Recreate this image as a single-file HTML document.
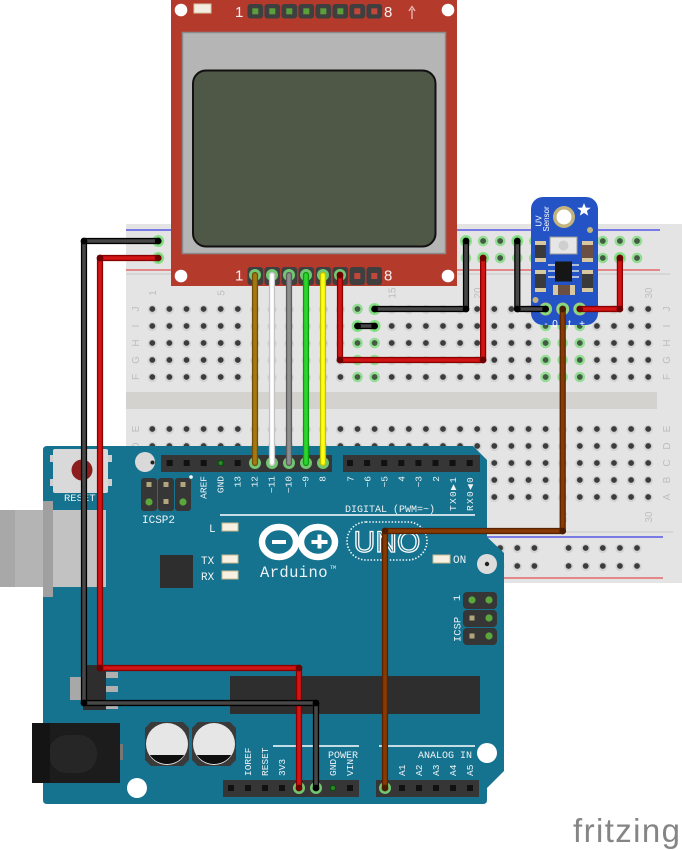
<!DOCTYPE html>
<html><head><meta charset="utf-8"><style>
html,body{margin:0;padding:0;background:#fff;}
svg{display:block;}
</style></head><body>
<svg width="682" height="850" viewBox="0 0 682 850" xmlns="http://www.w3.org/2000/svg">
<defs>
<pattern id="hg1" patternUnits="userSpaceOnUse" x="143.75" y="300.5" width="17.1" height="17"><circle cx="8.55" cy="9" r="4.6" fill="#d2d2d2"/><circle cx="8.55" cy="8.5" r="2.9" fill="#3c3c3c"/></pattern>
<pattern id="hg2" patternUnits="userSpaceOnUse" x="143.75" y="420.5" width="17.1" height="17"><circle cx="8.55" cy="9" r="4.6" fill="#d2d2d2"/><circle cx="8.55" cy="8.5" r="2.9" fill="#3c3c3c"/></pattern>
<pattern id="hr1" patternUnits="userSpaceOnUse" x="149.65" y="232.5" width="102.6" height="17"><g fill="#d2d2d2"><circle cx="8.55" cy="9" r="4.6"/><circle cx="25.65" cy="9" r="4.6"/><circle cx="42.75" cy="9" r="4.6"/><circle cx="59.85" cy="9" r="4.6"/><circle cx="76.95" cy="9" r="4.6"/></g><g fill="#3c3c3c"><circle cx="8.55" cy="8.5" r="2.9"/><circle cx="25.65" cy="8.5" r="2.9"/><circle cx="42.75" cy="8.5" r="2.9"/><circle cx="59.85" cy="8.5" r="2.9"/><circle cx="76.95" cy="8.5" r="2.9"/></g></pattern>
<pattern id="hr2" patternUnits="userSpaceOnUse" x="149.65" y="539" width="102.6" height="18"><g fill="#d2d2d2"><circle cx="8.55" cy="9.5" r="4.6"/><circle cx="25.65" cy="9.5" r="4.6"/><circle cx="42.75" cy="9.5" r="4.6"/><circle cx="59.85" cy="9.5" r="4.6"/><circle cx="76.95" cy="9.5" r="4.6"/></g><g fill="#3c3c3c"><circle cx="8.55" cy="9" r="2.9"/><circle cx="25.65" cy="9" r="2.9"/><circle cx="42.75" cy="9" r="2.9"/><circle cx="59.85" cy="9" r="2.9"/><circle cx="76.95" cy="9" r="2.9"/></g></pattern>
</defs>

<rect width="682" height="850" fill="#fff"/>

<!-- BREADBOARD -->
<rect x="126" y="224" width="556" height="359" fill="#e4e4e4"/>
<rect x="126" y="392" width="531" height="17" fill="#d4d2cf"/>
<line x1="126" y1="230" x2="660" y2="230" stroke="#5656e6" stroke-width="1.4"/>
<line x1="126" y1="270" x2="660" y2="270" stroke="#e26a6a" stroke-width="1.4"/>
<line x1="126" y1="274" x2="670" y2="274" stroke="#c9c9c9" stroke-width="1"/>
<line x1="126" y1="532" x2="673" y2="532" stroke="#c9c9c9" stroke-width="1"/>
<line x1="126" y1="537" x2="663" y2="537" stroke="#5656e6" stroke-width="1.4"/>
<line x1="126" y1="578" x2="663" y2="578" stroke="#e26a6a" stroke-width="1.4"/>
<rect x="143.75" y="300.5" width="513" height="85" fill="url(#hg1)"/>
<rect x="143.75" y="420.5" width="513" height="85" fill="url(#hg2)"/>
<rect x="149.65" y="232.5" width="513" height="34" fill="url(#hr1)"/>
<rect x="149.65" y="539" width="513" height="36" fill="url(#hr2)"/>

<g font-family="'Liberation Sans',sans-serif" font-size="10" fill="#bdbdbd" text-anchor="middle">
<text transform="translate(156,293) rotate(-90)">1</text>
<text transform="translate(224.4,293) rotate(-90)">5</text>
<text transform="translate(395.4,293) rotate(-90)">15</text>
<text transform="translate(480.9,293) rotate(-90)">20</text>
<text transform="translate(651.9,293) rotate(-90)">30</text>
<text transform="translate(566.4,517) rotate(-90)">25</text>
<text transform="translate(651.9,517) rotate(-90)">30</text>
<text transform="translate(139,309) rotate(-90)">J</text>
<text transform="translate(139,326) rotate(-90)">I</text>
<text transform="translate(139,343) rotate(-90)">H</text>
<text transform="translate(139,360) rotate(-90)">G</text>
<text transform="translate(139,377) rotate(-90)">F</text>
<text transform="translate(139,429) rotate(-90)">E</text>
<text transform="translate(139,446) rotate(-90)">D</text>
<text transform="translate(670,309) rotate(-90)">J</text>
<text transform="translate(670,326) rotate(-90)">I</text>
<text transform="translate(670,343) rotate(-90)">H</text>
<text transform="translate(670,360) rotate(-90)">G</text>
<text transform="translate(670,377) rotate(-90)">F</text>
<text transform="translate(670,429) rotate(-90)">E</text>
<text transform="translate(670,446) rotate(-90)">D</text>
<text transform="translate(670,463) rotate(-90)">C</text>
<text transform="translate(670,480) rotate(-90)">B</text>
<text transform="translate(670,497) rotate(-90)">A</text>
</g>

<!-- green highlighted holes -->
<g>
<g fill="#93dc93">
<circle cx="158.2" cy="241" r="5.3"/><circle cx="158.2" cy="258" r="5.3"/>
<circle cx="466" cy="241" r="5.3"/><circle cx="483.1" cy="241" r="5.3"/><circle cx="500.2" cy="241" r="5.3"/><circle cx="517.3" cy="241" r="5.3"/><circle cx="534.4" cy="241" r="5.3"/>
<circle cx="568.6" cy="241" r="5.3"/><circle cx="585.7" cy="241" r="5.3"/><circle cx="602.8" cy="241" r="5.3"/><circle cx="619.9" cy="241" r="5.3"/><circle cx="637" cy="241" r="5.3"/>
<circle cx="466" cy="258" r="5.3"/><circle cx="483.1" cy="258" r="5.3"/><circle cx="500.2" cy="258" r="5.3"/><circle cx="517.3" cy="258" r="5.3"/><circle cx="534.4" cy="258" r="5.3"/>
<circle cx="568.6" cy="258" r="5.3"/><circle cx="585.7" cy="258" r="5.3"/><circle cx="602.8" cy="258" r="5.3"/><circle cx="619.9" cy="258" r="5.3"/><circle cx="637" cy="258" r="5.3"/>
<circle cx="357.5" cy="309" r="5.3"/><circle cx="357.5" cy="326" r="5.3"/><circle cx="357.5" cy="343" r="5.3"/><circle cx="357.5" cy="360" r="5.3"/><circle cx="357.5" cy="377" r="5.3"/>
<circle cx="374.6" cy="309" r="5.3"/><circle cx="374.6" cy="326" r="5.3"/><circle cx="374.6" cy="343" r="5.3"/><circle cx="374.6" cy="360" r="5.3"/><circle cx="374.6" cy="377" r="5.3"/>
<circle cx="545.6" cy="326" r="5.3"/><circle cx="545.6" cy="343" r="5.3"/><circle cx="545.6" cy="360" r="5.3"/><circle cx="545.6" cy="377" r="5.3"/>
<circle cx="562.7" cy="326" r="5.3"/><circle cx="562.7" cy="343" r="5.3"/><circle cx="562.7" cy="360" r="5.3"/><circle cx="562.7" cy="377" r="5.3"/>
<circle cx="579.8" cy="326" r="5.3"/><circle cx="579.8" cy="343" r="5.3"/><circle cx="579.8" cy="360" r="5.3"/><circle cx="579.8" cy="377" r="5.3"/>
</g>
<g fill="#435a43">
<circle cx="483.1" cy="241" r="2.9"/><circle cx="500.2" cy="241" r="2.9"/><circle cx="534.4" cy="241" r="2.9"/><circle cx="568.6" cy="241" r="2.9"/><circle cx="585.7" cy="241" r="2.9"/><circle cx="602.8" cy="241" r="2.9"/><circle cx="619.9" cy="241" r="2.9"/><circle cx="637" cy="241" r="2.9"/>
<circle cx="466" cy="258" r="2.9"/><circle cx="500.2" cy="258" r="2.9"/><circle cx="517.3" cy="258" r="2.9"/><circle cx="534.4" cy="258" r="2.9"/><circle cx="568.6" cy="258" r="2.9"/><circle cx="585.7" cy="258" r="2.9"/><circle cx="602.8" cy="258" r="2.9"/><circle cx="637" cy="258" r="2.9"/>
<circle cx="357.5" cy="309" r="2.9"/><circle cx="357.5" cy="343" r="2.9"/><circle cx="357.5" cy="360" r="2.9"/><circle cx="357.5" cy="377" r="2.9"/>
<circle cx="374.6" cy="343" r="2.9"/><circle cx="374.6" cy="360" r="2.9"/><circle cx="374.6" cy="377" r="2.9"/>
<circle cx="545.6" cy="326" r="2.9"/><circle cx="545.6" cy="343" r="2.9"/><circle cx="545.6" cy="360" r="2.9"/><circle cx="545.6" cy="377" r="2.9"/>
<circle cx="562.7" cy="326" r="2.9"/><circle cx="562.7" cy="343" r="2.9"/><circle cx="562.7" cy="360" r="2.9"/><circle cx="562.7" cy="377" r="2.9"/>
<circle cx="579.8" cy="326" r="2.9"/><circle cx="579.8" cy="343" r="2.9"/><circle cx="579.8" cy="360" r="2.9"/><circle cx="579.8" cy="377" r="2.9"/>
</g>
</g>

<!-- ARDUINO -->
<path d="M47,446 L473,446 L487,460 L487,537 L504,553 L504,771 L487,788 L487,800 Q487,804 483,804 L47,804 Q43,804 43,800 L43,450 Q43,446 47,446 Z" fill="#157390"/>
<!-- USB -->
<rect x="0" y="510" width="106" height="77" fill="#c2c2c2"/>
<rect x="0" y="510" width="15" height="77" fill="#a8a8a8"/>
<rect x="15" y="510" width="30" height="77" fill="#b4b4b4"/>
<rect x="43" y="501" width="10" height="96" fill="#a0a0a0"/>
<!-- reset -->
<rect x="50" y="455" width="5" height="7" fill="#cfcfcf"/><rect x="50" y="479" width="5" height="7" fill="#cfcfcf"/>
<rect x="106" y="455" width="6" height="7" fill="#cfcfcf"/><rect x="106" y="479" width="6" height="7" fill="#cfcfcf"/>
<rect x="53" y="449" width="55" height="44" rx="2" fill="#d9d9d9"/>
<circle cx="82" cy="470" r="10.5" fill="#8c1e1e"/>
<g font-family="'Liberation Mono',monospace" fill="#eef3f5">
<text x="64" y="501" font-size="10.5">RESET</text>
<text x="142" y="523" font-size="11">ICSP2</text>
<text x="209" y="532" font-size="11">L</text>
<text x="201" y="564" font-size="11">TX</text>
<text x="201" y="580" font-size="11">RX</text>
<text x="453" y="563" font-size="11">ON</text>
<text x="345" y="512" font-size="10">DIGITAL (PWM=~)</text>
<text x="328" y="758" font-size="10">POWER</text>
<text x="418" y="758" font-size="10">ANALOG IN</text>
<text x="260" y="577" font-size="15.5" letter-spacing="0.4">Arduino</text>
<text x="330" y="569" font-size="5">TM</text>
</g>
<line x1="220" y1="515" x2="475" y2="515" stroke="#fff" stroke-width="1.5"/>
<line x1="273" y1="746" x2="359" y2="746" stroke="#fff" stroke-width="1.5"/>
<line x1="379" y1="746" x2="475" y2="746" stroke="#fff" stroke-width="1.5"/>
<!-- holes -->
<circle cx="145" cy="462" r="10" fill="#d9d9d9"/><circle cx="152.5" cy="462.5" r="2" fill="#222"/>
<circle cx="487" cy="564" r="10" fill="#dcdcdc"/><circle cx="487" cy="564" r="2.2" fill="#222"/>
<circle cx="137" cy="788" r="10" fill="#fff"/>
<circle cx="487" cy="753" r="10" fill="#fff"/>
<!-- digital headers -->
<rect x="161" y="455" width="171" height="17" fill="#363636"/>
<rect x="343" y="455" width="137" height="17" fill="#363636"/>
<g fill="#111">
<rect x="166.7" y="460" width="6" height="6"/><rect x="183.7" y="460" width="6" height="6"/><rect x="200.7" y="460" width="6" height="6"/><rect x="234.7" y="460" width="6" height="6"/>
<rect x="347" y="460" width="6" height="6"/><rect x="364.1" y="460" width="6" height="6"/><rect x="381.2" y="460" width="6" height="6"/><rect x="398.3" y="460" width="6" height="6"/><rect x="415.4" y="460" width="6" height="6"/><rect x="432.5" y="460" width="6" height="6"/><rect x="449.6" y="460" width="6" height="6"/><rect x="466.7" y="460" width="6" height="6"/>
</g>
<rect x="217.7" y="460" width="6" height="6" fill="#0f4a12"/><circle cx="220.7" cy="463" r="2" fill="#2a8a2a"/>
<g font-family="'Liberation Mono',monospace" font-size="9.5" fill="#eef3f5" text-anchor="end">
<text transform="translate(206.7,476) rotate(-90)">AREF</text>
<text transform="translate(223.7,476) rotate(-90)">GND</text>
<text transform="translate(240.7,476) rotate(-90)">13</text>
<text transform="translate(257.7,476) rotate(-90)">12</text>
<text transform="translate(274.7,476) rotate(-90)">~11</text>
<text transform="translate(291.7,476) rotate(-90)">~10</text>
<text transform="translate(308.7,476) rotate(-90)">~9</text>
<text transform="translate(325.7,476) rotate(-90)">8</text>
<text transform="translate(353.3,476) rotate(-90)">7</text>
<text transform="translate(370.4,476) rotate(-90)">~6</text>
<text transform="translate(387.5,476) rotate(-90)">~5</text>
<text transform="translate(404.6,476) rotate(-90)">4</text>
<text transform="translate(421.7,476) rotate(-90)">~3</text>
<text transform="translate(438.8,476) rotate(-90)">2</text>
<text transform="translate(455.9,476) rotate(-90)" letter-spacing="1.3">TX0▶1</text>
<text transform="translate(473,476) rotate(-90)" letter-spacing="1.3">RX0◀0</text>
</g>
<!-- ICSP2 -->
<rect x="141" y="478" width="16" height="33" rx="3" fill="#363636"/>
<rect x="158" y="478" width="16" height="33" rx="3" fill="#363636"/>
<rect x="175" y="478" width="16" height="33" rx="3" fill="#363636"/>
<g fill="#b3a57c"><rect x="146.5" y="482" width="5" height="5"/><rect x="163.5" y="482" width="5" height="5"/><rect x="180.5" y="482" width="5" height="5"/><rect x="163.5" y="499" width="5" height="5"/></g>
<circle cx="149" cy="502" r="3.6" fill="#5aa83c"/><circle cx="183" cy="502" r="3.6" fill="#5aa83c"/>
<circle cx="191" cy="477" r="1.8" fill="#fff"/>
<!-- LEDs -->
<g fill="#f6f1e2" stroke="#c9b98e" stroke-width="1">
<rect x="222" y="523" width="16" height="8"/><rect x="222" y="555" width="16" height="8"/><rect x="222" y="571" width="16" height="8"/><rect x="433" y="555" width="17" height="8"/>
</g>
<rect x="160" y="555" width="33" height="33" fill="#2e2e2e"/>
<!-- logo -->
<g fill="none" stroke="#fff" stroke-width="6.5">
<ellipse cx="279" cy="542" rx="17" ry="15"/><ellipse cx="318" cy="542" rx="17" ry="15"/>
</g>
<rect x="272" y="540" width="14" height="4" fill="#fff"/>
<rect x="311.5" y="540" width="16" height="4" fill="#fff"/><rect x="317.5" y="534.5" width="4" height="14" fill="#fff"/>
<rect x="347" y="522" width="80" height="38" rx="19" fill="none" stroke="#fff" stroke-width="1.6" stroke-dasharray="1.4 1.8"/>
<text x="387" y="552" text-anchor="middle" font-family="'Liberation Sans',sans-serif" font-size="30" fill="none" stroke="#fff" stroke-width="1.3">UNO</text>
<!-- ICSP right -->
<rect x="463" y="592" width="34" height="17" rx="4" fill="#363636"/>
<rect x="463" y="610" width="34" height="17" rx="4" fill="#363636"/>
<rect x="463" y="628" width="34" height="17" rx="4" fill="#363636"/>
<circle cx="472" cy="600" r="3.6" fill="#5aa83c"/><circle cx="489" cy="600" r="3.6" fill="#5aa83c"/>
<rect x="469.5" y="615.5" width="5" height="5" fill="#b3a57c"/><circle cx="489" cy="618" r="3.6" fill="#5aa83c"/>
<rect x="469.5" y="633.5" width="5" height="5" fill="#b3a57c"/><circle cx="489" cy="636" r="3.6" fill="#5aa83c"/>
<g font-family="'Liberation Mono',monospace" fill="#eef3f5">
<text transform="translate(460,598) rotate(-90)" font-size="10.5" text-anchor="middle">1</text>
<text transform="translate(460.5,642) rotate(-90)" font-size="10.5">ICSP</text>
</g>
<!-- chips -->
<rect x="230" y="676" width="250" height="38" fill="#2e2e2e"/>
<rect x="106" y="672" width="12" height="6" fill="#b0b0b0"/><rect x="106" y="686" width="12" height="6" fill="#b0b0b0"/><rect x="106" y="704" width="12" height="5" fill="#b0b0b0"/>
<rect x="70" y="677" width="15" height="23" fill="#a8a8a8"/>
<rect x="83" y="665" width="23" height="45" fill="#2e2e2e"/>
<!-- power jack -->
<rect x="118" y="744" width="5" height="16" fill="#777"/>
<rect x="32" y="723" width="88" height="60" fill="#1c1c1c"/>
<rect x="49" y="735" width="48" height="38" rx="18" fill="#262626"/>
<rect x="32" y="723" width="18" height="60" fill="#141414"/>
<!-- capacitors -->
<path d="M151,722 L183,722 L189,728 L189,760 L183,766 L151,766 L145,760 L145,728 Z" fill="#3a3a3a"/>
<circle cx="167" cy="744" r="21" fill="#e6e6e6"/>
<path d="M149.8,755 A21 21 0 0 0 184.2,755 Z" fill="#0e0e0e"/>
<path d="M198,722 L230,722 L236,728 L236,760 L230,766 L198,766 L192,760 L192,728 Z" fill="#3a3a3a"/>
<circle cx="214" cy="744" r="21" fill="#e6e6e6"/>
<path d="M196.8,755 A21 21 0 0 0 231.2,755 Z" fill="#0e0e0e"/>
<!-- power/analog headers -->
<rect x="223" y="780" width="136" height="17" fill="#363636"/>
<rect x="376" y="780" width="103" height="17" fill="#363636"/>
<g fill="#111">
<rect x="228" y="785" width="6" height="6"/><rect x="245" y="785" width="6" height="6"/><rect x="262" y="785" width="6" height="6"/><rect x="279" y="785" width="6" height="6"/><rect x="347" y="785" width="6" height="6"/>
<rect x="399" y="785" width="6" height="6"/><rect x="416" y="785" width="6" height="6"/><rect x="433" y="785" width="6" height="6"/><rect x="450" y="785" width="6" height="6"/><rect x="467" y="785" width="6" height="6"/>
</g>
<rect x="330" y="785" width="6" height="6" fill="#0f4a12"/><circle cx="333" cy="788" r="2" fill="#2a8a2a"/>
<g font-family="'Liberation Mono',monospace" font-size="9.5" fill="#eef3f5">
<text transform="translate(251,776) rotate(-90)">IOREF</text>
<text transform="translate(268,776) rotate(-90)">RESET</text>
<text transform="translate(285,776) rotate(-90)">3V3</text>
<text transform="translate(302,776) rotate(-90)">5V</text>
<text transform="translate(319,776) rotate(-90)">GND</text>
<text transform="translate(336,776) rotate(-90)">GND</text>
<text transform="translate(353,776) rotate(-90)">VIN</text>
<text transform="translate(388,776) rotate(-90)">A0</text>
<text transform="translate(405,776) rotate(-90)">A1</text>
<text transform="translate(422,776) rotate(-90)">A2</text>
<text transform="translate(439,776) rotate(-90)">A3</text>
<text transform="translate(456,776) rotate(-90)">A4</text>
<text transform="translate(473,776) rotate(-90)">A5</text>
</g>

<!-- LCD -->
<rect x="171" y="-4" width="286" height="290" fill="#b43a2c"/>
<circle cx="181" cy="10" r="6.3" fill="#fff"/><circle cx="448" cy="10" r="6.3" fill="#fff"/>
<circle cx="181" cy="276" r="6.3" fill="#fff"/><circle cx="448" cy="276" r="6.3" fill="#fff"/>
<rect x="194" y="4" width="17" height="9" fill="#f4eee2" stroke="#d6c7a2" stroke-width="1"/>
<g font-family="'Liberation Sans',sans-serif" font-size="15" fill="#f6f0ee">
<text x="235" y="17">1</text><text x="384" y="17">8</text>
<text x="235" y="280.5">1</text><text x="384" y="280.5">8</text>
</g>
<line x1="412" y1="9" x2="412" y2="19" stroke="#ecbcb4" stroke-width="1.3"/>
<path d="M409,11 L412,6.5 L415,11" fill="none" stroke="#ecbcb4" stroke-width="1.3"/>
<g fill="#3f3f3f">
<rect x="247.5" y="4" width="15.6" height="14.5" rx="3"/><rect x="264.5" y="4" width="15.6" height="14.5" rx="3"/><rect x="281.5" y="4" width="15.6" height="14.5" rx="3"/><rect x="298.5" y="4" width="15.6" height="14.5" rx="3"/><rect x="315.5" y="4" width="15.6" height="14.5" rx="3"/><rect x="332.5" y="4" width="15.6" height="14.5" rx="3"/><rect x="349.5" y="4" width="15.6" height="14.5" rx="3"/><rect x="366.5" y="4" width="15.6" height="14.5" rx="3"/>
<rect x="247.5" y="267" width="15.6" height="18" rx="3"/><rect x="264.5" y="267" width="15.6" height="18" rx="3"/><rect x="281.5" y="267" width="15.6" height="18" rx="3"/><rect x="298.5" y="267" width="15.6" height="18" rx="3"/><rect x="315.5" y="267" width="15.6" height="18" rx="3"/><rect x="332.5" y="267" width="15.6" height="18" rx="3"/><rect x="349.5" y="267" width="15.6" height="18" rx="3"/><rect x="366.5" y="267" width="15.6" height="18" rx="3"/>
</g>
<g fill="#5c9e3c">
<rect x="252.3" y="8.3" width="6" height="6"/><rect x="269.3" y="8.3" width="6" height="6"/><rect x="286.3" y="8.3" width="6" height="6"/><rect x="303.3" y="8.3" width="6" height="6"/><rect x="320.3" y="8.3" width="6" height="6"/><rect x="337.3" y="8.3" width="6" height="6"/>
</g>
<g fill="#c4473c">
<rect x="354.3" y="8.3" width="6" height="6"/><rect x="371.3" y="8.3" width="6" height="6"/>
<rect x="354.3" y="273" width="6" height="6"/><rect x="371.3" y="273" width="6" height="6"/>
</g>
<rect x="182.5" y="32.5" width="263" height="221" fill="#b5b5b5" stroke="#8a8a8a" stroke-width="1.5"/>
<rect x="193" y="70.5" width="242.5" height="176" rx="13" fill="#4f5747" stroke="#111" stroke-width="2"/>

<!-- UV SENSOR -->
<rect x="531" y="197" width="67" height="128" rx="12" fill="#2353c5"/>
<circle cx="564" cy="217" r="11" fill="#c3b37c"/><circle cx="564" cy="217" r="7.5" fill="#fff"/>
<path d="M584,203 L585.8,207.6 L590.7,207.8 L586.9,210.9 L588.2,215.6 L584,212.9 L579.8,215.6 L581.1,210.9 L577.3,207.8 L582.2,207.6 Z" fill="#fff"/>
<circle cx="590" cy="230" r="3" fill="#c3b37c"/><circle cx="535.5" cy="300" r="3" fill="#c3b37c"/>
<g font-family="'Liberation Sans',sans-serif" fill="#fff" text-anchor="middle">
<text transform="translate(541.5,221) rotate(-90)" font-size="8">UV</text>
<text transform="translate(549,219) rotate(-90)" font-size="8">Sensor</text>
</g>
<rect x="550" y="237" width="27" height="17" fill="#e6e6e6" stroke="#9a9a9a" stroke-width="1"/>
<circle cx="563.5" cy="245.5" r="5" fill="#cfcfcf"/>
<rect x="535" y="241" width="11" height="21" fill="#d8c8a0"/><rect x="535" y="245" width="11" height="13" fill="#3a3a3a"/>
<rect x="582" y="241" width="11" height="21" fill="#d8c8a0"/><rect x="582" y="245" width="11" height="13" fill="#6b4f42"/>
<rect x="535" y="270" width="11" height="22" fill="#d8c8a0"/><rect x="535" y="274" width="11" height="14" fill="#3a3a3a"/>
<rect x="582" y="270" width="11" height="22" fill="#d8c8a0"/><rect x="582" y="274" width="11" height="14" fill="#3a3a3a"/>
<g stroke="#e0e0e0" stroke-width="1.5"><line x1="548" y1="265" x2="555" y2="265"/><line x1="548" y1="271" x2="555" y2="271"/><line x1="548" y1="277" x2="555" y2="277"/><line x1="572" y1="265" x2="579" y2="265"/><line x1="572" y1="271" x2="579" y2="271"/><line x1="572" y1="277" x2="579" y2="277"/></g>
<rect x="555" y="261.5" width="17" height="20" fill="#161616"/>
<rect x="553" y="285" width="22" height="10" fill="#d8c8a0"/><rect x="558" y="285" width="12" height="10" fill="#6b4f42"/>
<g fill="#c3b37c"><circle cx="545.6" cy="309" r="6.5"/><circle cx="562.7" cy="309" r="6.5"/><circle cx="579.8" cy="309" r="6.5"/></g>
<g fill="#5cb85c"><circle cx="545.6" cy="309" r="4"/><circle cx="562.7" cy="309" r="4"/><circle cx="579.8" cy="309" r="4"/></g>
<g font-family="'Liberation Sans',sans-serif" font-size="10" fill="#fff" text-anchor="middle">
<text x="546" y="327">-</text><text x="555" y="327">0</text><text x="569.5" y="327">t</text><text x="582" y="327">+</text>
</g>

<!-- WIRES -->
<g fill="#7de07d" opacity="0.85">
<circle cx="158.2" cy="241" r="6"/><circle cx="158.2" cy="258" r="6"/>
<circle cx="255" cy="275" r="6"/><circle cx="272" cy="275" r="6"/><circle cx="289" cy="275" r="6"/><circle cx="306" cy="275" r="6"/><circle cx="323" cy="275" r="6"/><circle cx="340" cy="275" r="6"/>
<circle cx="255" cy="463" r="6"/><circle cx="272" cy="463" r="6"/><circle cx="289" cy="463" r="6"/><circle cx="306" cy="463" r="6"/><circle cx="323" cy="463" r="6"/>
<circle cx="299" cy="788" r="6"/><circle cx="316" cy="788" r="6"/><circle cx="385" cy="788" r="6"/>
<circle cx="374.6" cy="309" r="6"/><circle cx="357.5" cy="326" r="6"/><circle cx="374.6" cy="326" r="6"/>
<circle cx="466" cy="241" r="6"/><circle cx="483.1" cy="258" r="6"/><circle cx="517.3" cy="241" r="6"/><circle cx="619.9" cy="258" r="6"/>
<circle cx="545.6" cy="309" r="6"/><circle cx="562.7" cy="309" r="6"/><circle cx="579.8" cy="309" r="6"/>
</g>
<g fill="none" stroke-linecap="round" stroke-linejoin="round">
<polyline points="255,275 255,463" stroke="#73500a" stroke-width="6.2"/><polyline points="255,275 255,463" stroke="#a57812" stroke-width="3.6"/>
<polyline points="272,275 272,463" stroke="#c4c4c4" stroke-width="6.2"/><polyline points="272,275 272,463" stroke="#ffffff" stroke-width="3.6"/>
<polyline points="289,275 289,463" stroke="#5c5c5c" stroke-width="6.2"/><polyline points="289,275 289,463" stroke="#8f8f8f" stroke-width="3.6"/>
<polyline points="306,275 306,463" stroke="#0e9a0e" stroke-width="6.2"/><polyline points="306,275 306,463" stroke="#2ed52e" stroke-width="3.6"/>
<polyline points="323,275 323,463" stroke="#c2c200" stroke-width="6.2"/><polyline points="323,275 323,463" stroke="#ffff14" stroke-width="3.6"/>
<polyline points="340,275 340,360 483.1,360 483.1,258" stroke="#880000" stroke-width="6.2"/><polyline points="340,275 340,360 483.1,360 483.1,258" stroke="#d21414" stroke-width="3.6"/>
<polyline points="374.6,309 466,309 466,241" stroke="#000" stroke-width="6.2"/><polyline points="374.6,309 466,309 466,241" stroke="#474747" stroke-width="3.6"/>
<polyline points="357.5,326 374.6,326" stroke="#000" stroke-width="6.2"/><polyline points="357.5,326 374.6,326" stroke="#474747" stroke-width="3.6"/>
<polyline points="545.6,309 517.3,309 517.3,241" stroke="#000" stroke-width="6.2"/><polyline points="545.6,309 517.3,309 517.3,241" stroke="#474747" stroke-width="3.6"/>
<polyline points="579.8,309 619.9,309 619.9,258" stroke="#880000" stroke-width="6.2"/><polyline points="579.8,309 619.9,309 619.9,258" stroke="#d21414" stroke-width="3.6"/>
<polyline points="158.2,258 100,258 100,668 299,668 299,788" stroke="#880000" stroke-width="6.2"/><polyline points="158.2,258 100,258 100,668 299,668 299,788" stroke="#d21414" stroke-width="3.6"/>
<polyline points="158.2,241 84,241 84,703 316,703 316,788" stroke="#000" stroke-width="6.2"/><polyline points="158.2,241 84,241 84,703 316,703 316,788" stroke="#474747" stroke-width="3.6"/>
<polyline points="562.7,309 562.7,531 385,531 385,788" stroke="#5a2200" stroke-width="6.2"/><polyline points="562.7,309 562.7,531 385,531 385,788" stroke="#873a02" stroke-width="3.6"/>
</g>
<g fill="#6e0000">
<circle cx="340" cy="360" r="3.4"/><circle cx="483.1" cy="360" r="3.4"/><circle cx="483.1" cy="258" r="3.4"/><circle cx="340" cy="275" r="3.4"/>
<circle cx="100" cy="258" r="3.4"/><circle cx="100" cy="668" r="3.4"/><circle cx="299" cy="668" r="3.4"/><circle cx="299" cy="788" r="3.4"/><circle cx="158.2" cy="258" r="3.4"/>
<circle cx="619.9" cy="309" r="3.4"/><circle cx="619.9" cy="258" r="3.4"/><circle cx="579.8" cy="309" r="3.4"/>
</g>
<g fill="#000">
<circle cx="84" cy="241" r="3.4"/><circle cx="84" cy="703" r="3.4"/><circle cx="316" cy="703" r="3.4"/><circle cx="316" cy="788" r="3.4"/><circle cx="158.2" cy="241" r="3.4"/>
<circle cx="374.6" cy="309" r="3.4"/><circle cx="466" cy="309" r="3.4"/><circle cx="466" cy="241" r="3.4"/><circle cx="357.5" cy="326" r="3.4"/><circle cx="374.6" cy="326" r="3.4"/>
<circle cx="545.6" cy="309" r="3.4"/><circle cx="517.3" cy="309" r="3.4"/><circle cx="517.3" cy="241" r="3.4"/>
</g>
<g fill="#4a1c00"><circle cx="562.7" cy="531" r="3.4"/><circle cx="385" cy="531" r="3.4"/><circle cx="385" cy="788" r="3.4"/><circle cx="562.7" cy="309" r="3.4"/></g>

<!-- fritzing logo -->
<text x="573" y="842" font-family="'Liberation Sans',sans-serif" font-size="33" letter-spacing="1.4" fill="#858585">fritzing</text>
</svg>
</body></html>
